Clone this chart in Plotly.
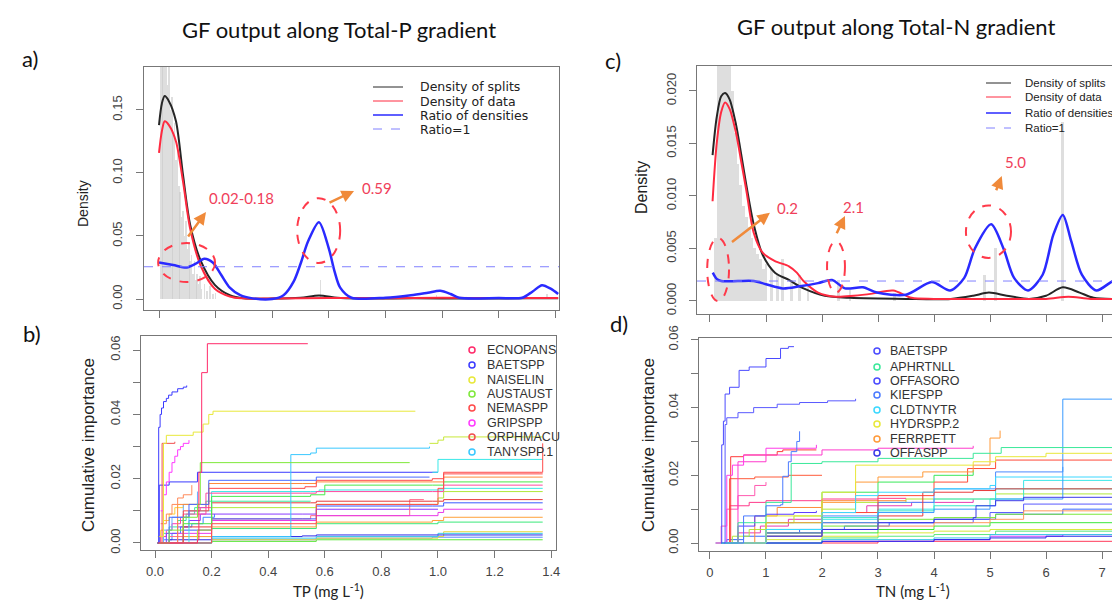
import plotly.graph_objects as go

W, H = 1120, 600

# ---- panel a: density along Total-P ----
A_SPLITS_X = [0.0, 0.01, 0.02, 0.035, 0.06, 0.085, 0.11, 0.148, 0.198, 0.25, 0.30, 0.40, 0.50,
              0.565, 0.63, 0.70, 0.90, 1.10, 1.30, 1.41]
A_SPLITS_Y = [0.138, 0.155, 0.161, 0.157, 0.141, 0.098, 0.059, 0.030, 0.011, 0.003, 0.0005, 0.0003,
              0.001, 0.0028, 0.001, 0.0004, 0.0005, 0.0004, 0.0005, 0.0005]
A_DATA_X = [0.0, 0.01, 0.02, 0.035, 0.06, 0.085, 0.11, 0.148, 0.198, 0.25, 0.29, 0.40, 0.60, 0.80,
            1.00, 1.20, 1.41]
A_DATA_Y = [0.116, 0.133, 0.141, 0.138, 0.125, 0.093, 0.056, 0.026, 0.008, 0.002, 0.0005, 0.0004,
            0.0008, 0.0006, 0.001, 0.0007, 0.0008]
A_RATIO_X = [0.0, 0.05, 0.098, 0.13, 0.16, 0.19, 0.22, 0.25, 0.287, 0.33, 0.40, 0.44, 0.476, 0.50,
             0.527, 0.565, 0.60, 0.62, 0.64, 0.68, 0.80, 0.89, 0.95, 0.993, 1.03, 1.06, 1.20, 1.283,
             1.32, 1.353, 1.385, 1.41]
A_RATIO_Y = [0.029, 0.027, 0.025, 0.028, 0.032, 0.029, 0.019, 0.009, 0.003, 0.0005, 0.0, 0.003,
             0.014, 0.028, 0.046, 0.061, 0.040, 0.022, 0.009, 0.001, 0.001, 0.003, 0.005, 0.0065,
             0.004, 0.001, 0.0008, 0.001, 0.006, 0.011, 0.008, 0.004]
A_RATIO_ONE = 0.0256
A_BAR_X = [0.005, 0.01, 0.015, 0.02, 0.025, 0.03, 0.035, 0.04, 0.045, 0.05, 0.055, 0.06, 0.065,
           0.07, 0.075, 0.08, 0.085, 0.09, 0.095, 0.1, 0.105, 0.11, 0.115, 0.12, 0.125, 0.13,
           0.135, 0.14, 0.145, 0.15, 0.16, 0.17, 0.18, 0.19, 0.2, 0.57, 0.98, 1.37]
A_BAR_H = [0.19, 0.19, 0.19, 0.185, 0.19, 0.17, 0.19, 0.15, 0.16, 0.13, 0.14, 0.11, 0.12, 0.09,
           0.085, 0.065, 0.07, 0.05, 0.062, 0.04, 0.045, 0.03, 0.035, 0.02, 0.03, 0.015, 0.02,
           0.012, 0.018, 0.008, 0.012, 0.006, 0.01, 0.004, 0.005, 0.015, 0.003, 0.004]

# ---- panel c: density along Total-N ----
C_SPLITS_X = [0.046, 0.12, 0.2, 0.27, 0.35, 0.465, 0.55, 0.65, 0.78, 0.94, 1.16, 1.41, 1.67, 2.05,
              2.5, 3.5, 4.3, 4.7, 4.98, 5.3, 5.7, 6.0, 6.3, 6.6, 6.85, 7.46]
C_SPLITS_Y = [0.0139, 0.0175, 0.0195, 0.0198, 0.0192, 0.0168, 0.0142, 0.011, 0.0073, 0.0044,
              0.0027, 0.0020, 0.0012, 0.0005, 0.0003, 0.0002, 0.0002, 0.0005, 0.0008, 0.0005,
              0.0002, 0.0005, 0.0013, 0.0008, 0.0003, 0.0002]
C_DATA_X = [0.046, 0.12, 0.2, 0.27, 0.35, 0.465, 0.55, 0.65, 0.78, 0.94, 1.16, 1.41, 1.55, 1.67,
            1.93, 2.25, 2.57, 2.9, 3.27, 3.6, 4.0, 5.0, 6.0, 6.4, 6.8, 7.46]
C_DATA_Y = [0.0095, 0.0150, 0.0180, 0.0189, 0.0183, 0.0160, 0.0135, 0.0105, 0.0065, 0.0046,
            0.0038, 0.0033, 0.0027, 0.0019, 0.0008, 0.0004, 0.0005, 0.0007, 0.001, 0.0003,
            0.0002, 0.0002, 0.0002, 0.0004, 0.0002, 0.0002]
C_RATIO_X = [0.05, 0.12, 0.2, 0.5, 0.78, 1.0, 1.3, 1.6, 1.93, 2.18, 2.41, 2.73, 2.98, 3.5, 3.96,
             4.29, 4.54, 4.73, 5.02, 5.24, 5.43, 5.68, 5.94, 6.13, 6.3, 6.45, 6.64, 6.9, 7.25, 7.46]
C_RATIO_Y = [0.0027, 0.0021, 0.0019, 0.0019, 0.0019, 0.0016, 0.0012, 0.0014, 0.0017, 0.0020,
             0.0012, 0.0013, 0.0008, 0.0006, 0.0018, 0.0010, 0.0022, 0.0050, 0.0073, 0.0050,
             0.0022, 0.0010, 0.0025, 0.0063, 0.0082, 0.0057, 0.0025, 0.0010, 0.0020, 0.0010]
C_RATIO_ONE = 0.0019
C_BAR_X = [0.1, 0.15, 0.2, 0.25, 0.3, 0.35, 0.4, 0.45, 0.5, 0.55, 0.6, 0.65, 0.7, 0.75, 0.8, 0.85,
           0.9, 0.95, 1.0, 1.1, 1.2, 1.3, 1.45, 1.6, 1.75, 2.3, 2.5, 3.3, 4.9, 5.1, 6.3, 7.2]
C_BAR_H = [0.006, 0.024, 0.024, 0.024, 0.024, 0.024, 0.02, 0.016, 0.013, 0.011, 0.009, 0.008,
           0.007, 0.006, 0.005, 0.0045, 0.004, 0.003, 0.0035, 0.003, 0.0025, 0.004, 0.002,
           0.0025, 0.0015, 0.002, 0.001, 0.0008, 0.0025, 0.005, 0.017, 0.0035]

# ---- panel b: cumulative importance along TP ----
B_X = [
    [0.01, 0.15, 0.155, 0.165, 0.185, 0.54],
    [0.01, 0.013, 0.018, 0.023, 0.03, 0.04, 0.048, 0.06, 0.08, 0.1, 0.112],
    [0.01, 0.03, 0.04, 0.135, 0.17, 0.19, 0.205, 0.92],
    [0.01, 0.05, 0.1, 0.15, 0.16, 0.9],
    [0.01, 0.2, 0.57, 1.0, 1.02, 1.36, 1.37],
    [0.02, 0.03, 0.04, 0.05, 0.06, 0.07, 0.08, 0.09, 0.1, 0.12],
    [0.02, 0.025, 0.07],
    [0.01, 0.2, 0.47, 0.48, 0.55, 0.57, 0.97],
    [0.97, 1.0, 1.02, 1.37],
    [0.98, 1.0, 1.37],
    [0.01, 0.015, 0.05, 0.15, 1.0],
    [0.01, 0.05, 0.12, 0.19, 0.52, 0.57, 0.97],
    [0.01, 0.1, 0.19, 0.53, 0.57, 0.98, 1.02, 1.37],
    [0.01, 0.08, 0.19, 0.52, 0.57, 0.98, 1.02, 1.37],
    [0.01, 0.1, 0.2, 0.55, 0.6, 0.98, 1.02, 1.37],
    [0.01, 0.1, 0.18, 0.52, 0.57, 0.98, 1.02, 1.37],
    [0.01, 0.12, 0.2, 0.55, 0.58, 1.0, 1.02, 1.37],
    [0.01, 0.15, 0.2, 0.57, 1.0, 1.02, 1.37],
    [0.01, 0.1, 0.2, 0.55, 0.57, 0.98, 1.02, 1.37],
    [0.01, 0.1, 0.2, 0.52, 0.57, 0.98, 1.02, 1.37],
    [0.01, 0.08, 0.2, 0.57, 1.0, 1.02, 1.37],
    [0.01, 0.1, 0.2, 0.57, 0.98, 1.02, 1.37],
    [0.01, 0.15, 0.2, 0.57, 1.0, 1.37],
    [0.01, 0.05, 0.2, 0.47, 0.52, 0.57, 1.37],
    [0.01, 0.2, 0.57, 1.0, 1.37],
    [0.01, 0.2, 0.57, 1.0, 1.02, 1.37],
    [0.01, 0.2, 0.57, 0.98, 1.37],
    [0.01, 0.2, 0.57, 1.37],
    [0.01, 0.05, 0.15, 0.2, 0.52, 0.55, 0.9, 0.95],
    [0.01, 0.03, 0.06, 0.1, 0.15],
    [0.02, 0.04, 0.06, 0.08, 0.1, 0.13],
    [0.01, 0.04, 0.08, 0.12, 0.16, 0.52, 0.57, 1.0],
    [0.01, 0.02, 0.04, 0.06, 0.09, 0.12, 0.16, 0.2],
    [0.01, 0.03, 0.05, 0.08, 0.11, 0.14, 0.18, 0.55],
    [0.01, 0.02, 0.03, 0.05, 0.07, 0.1, 0.15],
    [0.01, 0.03, 0.06, 0.09, 0.13, 0.17, 0.21],
]
B_Y = [
    [0.0, 0.001, 0.022, 0.053, 0.062, 0.062],
    [0.0, 0.036, 0.04, 0.042, 0.044, 0.045, 0.046, 0.047, 0.048, 0.0485, 0.049],
    [0.002, 0.031, 0.0335, 0.0345, 0.037, 0.040, 0.041, 0.041],
    [0.0, 0.004, 0.008, 0.012, 0.025, 0.025],
    [0.0, 0.006, 0.012, 0.017, 0.022, 0.022, 0.031],
    [0.01, 0.015, 0.019, 0.022, 0.025, 0.027, 0.029, 0.030, 0.031, 0.032],
    [0.0, 0.031, 0.0315],
    [0.0, 0.002, 0.002, 0.0275, 0.028, 0.0295, 0.030],
    [0.031, 0.032, 0.033, 0.033],
    [0.022, 0.026, 0.026],
    [0.0, 0.018, 0.019, 0.022, 0.022],
    [0.0, 0.008, 0.012, 0.0195, 0.0195, 0.0205, 0.0205],
    [0.0, 0.01, 0.017, 0.0175, 0.0195, 0.02, 0.0215, 0.0215],
    [0.0, 0.012, 0.0185, 0.0185, 0.019, 0.019, 0.0205, 0.0205],
    [0.0, 0.006, 0.0145, 0.015, 0.018, 0.018, 0.019, 0.019],
    [0.0, 0.009, 0.0155, 0.0155, 0.016, 0.016, 0.018, 0.018],
    [0.0, 0.01, 0.016, 0.016, 0.0165, 0.0165, 0.017, 0.017],
    [0.0, 0.004, 0.011, 0.012, 0.014, 0.016, 0.016],
    [0.0, 0.005, 0.0125, 0.0125, 0.013, 0.013, 0.0135, 0.0135],
    [0.0, 0.004, 0.0075, 0.0075, 0.0115, 0.0115, 0.0125, 0.0125],
    [0.0, 0.003, 0.007, 0.0085, 0.0095, 0.0105, 0.0105],
    [0.0, 0.002, 0.005, 0.0065, 0.007, 0.008, 0.008],
    [0.0, 0.002, 0.0045, 0.006, 0.0065, 0.0065],
    [0.0, 0.001, 0.002, 0.002, 0.0022, 0.0025, 0.0025],
    [0.0, 0.0015, 0.002, 0.003, 0.003],
    [0.0, 0.001, 0.0015, 0.002, 0.0035, 0.0035],
    [0.0, 0.001, 0.0015, 0.0018, 0.0018],
    [0.0, 0.0005, 0.001, 0.001],
    [0.0, 0.002, 0.004, 0.0075, 0.0075, 0.0085, 0.0135, 0.0135],
    [0.0, 0.004, 0.008, 0.012, 0.016],
    [0.006, 0.009, 0.012, 0.014, 0.015, 0.018],
    [0.0, 0.003, 0.005, 0.007, 0.009, 0.009, 0.0105, 0.0105],
    [0.0, 0.002, 0.004, 0.006, 0.008, 0.010, 0.011, 0.012],
    [0.0, 0.003, 0.005, 0.007, 0.009, 0.011, 0.013, 0.013],
    [0.0, 0.004, 0.007, 0.009, 0.011, 0.012, 0.013],
    [0.0, 0.001, 0.003, 0.005, 0.006, 0.008, 0.009],
]
B_COLORS = ["#ff2a6a", "#3a3aff", "#e8e83a", "#7ee83a", "#ff4a4a", "#ff3aff", "#f05050", "#3ac8ff",
            "#c8e83a", "#3ae8e8", "#3a3aff", "#4a6aff", "#ff4a4a", "#ff8a3a", "#4ae84a", "#ff4aa0",
            "#3ae8e8", "#b0e83a", "#e83a3a", "#3a5aff", "#e83ae8", "#ffa03a", "#3ae87a", "#2a2ae8",
            "#3ac8e8", "#e8d83a", "#5a8aff", "#5ae83a", "#ff6a8a", "#6ab0ff", "#ff8a5a", "#8a3aff",
            "#ff3ab0", "#3ae8a0", "#ffd03a", "#3a8aff"]
B_LEGEND = ["ECNOPANS", "BAETSPP", "NAISELIN", "AUSTAUST", "NEMASPP", "GRIPSPP", "ORPHMACU",
            "TANYSPP.1"]
B_LEGEND_COLORS = ["#ff2a6a", "#3a3aff", "#e8e83a", "#7ee83a", "#ff4a4a", "#ff3aff", "#f05050",
                   "#3ac8ff"]

# ---- panel d: cumulative importance along TN ----
D_X = [
    [0.2, 0.21, 0.24, 0.27, 0.35, 0.52, 0.7, 1.0, 1.26, 1.4, 1.5],
    [0.25, 0.27, 0.3, 0.5, 0.78, 1.2, 1.6, 2.1, 2.6],
    [0.2, 0.6, 1.0, 1.26, 1.3, 1.4, 1.45, 1.55, 1.6],
    [0.2, 0.5, 1.0, 1.45, 2.0, 3.0, 4.7, 5.2, 7.25],
    [0.2, 1.0, 2.0, 2.6, 3.0, 4.0, 5.0, 5.1, 6.3, 7.25],
    [0.2, 1.0, 2.0, 2.6, 4.7, 5.1, 6.0, 7.2, 7.25],
    [0.3, 1.0, 2.0, 2.6, 3.0, 3.8, 4.7, 5.0, 5.18],
    [0.2, 1.0, 2.0, 3.0, 4.0, 4.7, 4.75, 5.1, 5.6, 7.25],
    [0.2, 1.0, 2.0, 3.0, 4.0, 5.0, 5.1, 6.3, 7.25],
    [0.2, 0.3, 0.4, 0.6, 1.0, 1.9],
    [0.3, 0.5, 1.0, 2.0, 3.0, 4.7],
    [0.25, 0.37, 0.6, 1.2, 1.3, 1.9],
    [0.3, 0.35, 0.8, 1.4, 2.0],
    [0.2, 0.35, 0.7, 1.0, 2.0, 3.0, 3.5],
    [0.3, 1.0, 2.0, 3.0, 3.8, 4.7, 5.1, 7.25],
    [0.3, 1.0, 2.0, 3.0, 4.0, 5.0, 5.6, 7.25],
    [0.3, 1.0, 2.0, 3.0, 4.0, 5.1, 7.25],
    [0.3, 1.0, 2.0, 3.0, 4.0, 5.0, 5.6, 7.25],
    [0.3, 1.0, 2.0, 3.0, 4.7, 5.0, 5.6, 7.25],
    [0.3, 1.0, 2.0, 3.0, 4.0, 5.0, 7.25],
    [0.3, 1.0, 2.0, 3.0, 4.0, 5.0, 7.25],
    [0.2, 2.0, 4.0, 5.0, 6.0, 7.25],
    [0.2, 2.0, 4.0, 5.0, 7.25],
    [0.2, 2.0, 3.0, 4.0, 5.1, 7.25],
    [0.2, 2.0, 4.0, 5.0, 6.3, 7.25],
    [0.2, 3.0, 7.25],
    [0.1, 0.2, 0.3, 0.5, 0.8, 1.0],
    [0.3, 0.5, 0.8, 1.0, 1.5, 1.9],
    [0.3, 1.0, 2.0, 3.0, 4.0, 4.7],
    [0.3, 1.0, 2.0, 3.0, 4.0, 4.6, 5.1, 7.25],
    [0.3, 1.0, 2.0, 3.0, 4.0, 5.1, 6.3],
    [0.3, 1.0, 2.0, 3.0, 4.0, 5.1, 5.6, 7.25],
    [0.3, 0.8, 1.2, 2.0, 3.5],
    [0.2, 0.4, 0.7, 1.0, 1.5, 2.0, 2.6, 3.5, 5.1, 7.25],
    [0.2, 0.5, 0.9, 1.4, 2.0, 2.8, 3.6, 4.7],
    [0.1, 0.3, 0.6, 1.0, 1.6, 2.4, 3.2, 4.0, 5.1, 6.3, 7.25],
]
D_Y = [
    [0.0, 0.029, 0.036, 0.044, 0.046, 0.051, 0.052, 0.0545, 0.0575, 0.058, 0.058],
    [0.0, 0.035, 0.037, 0.0385, 0.040, 0.041, 0.0415, 0.042, 0.0426],
    [0.0, 0.008, 0.011, 0.0113, 0.0197, 0.024, 0.027, 0.030, 0.033],
    [0.0, 0.006, 0.012, 0.0235, 0.024, 0.025, 0.0265, 0.0282, 0.0285],
    [0.0, 0.004, 0.009, 0.014, 0.015, 0.016, 0.017, 0.0195, 0.0195, 0.020],
    [0.0, 0.008, 0.015, 0.023, 0.024, 0.0255, 0.0265, 0.028, 0.0395],
    [0.0, 0.006, 0.012, 0.018, 0.0195, 0.021, 0.023, 0.031, 0.0332],
    [0.0, 0.002, 0.004, 0.006, 0.007, 0.0075, 0.011, 0.0125, 0.0135, 0.014],
    [0.0, 0.003, 0.006, 0.009, 0.010, 0.011, 0.013, 0.0425, 0.028],
    [0.0, 0.020, 0.023, 0.026, 0.028, 0.029],
    [0.0, 0.024, 0.026, 0.0275, 0.028, 0.0287],
    [0.0, 0.0255, 0.026, 0.027, 0.0275, 0.0275],
    [0.0, 0.019, 0.0195, 0.020, 0.020],
    [0.0, 0.011, 0.012, 0.0125, 0.013, 0.0132, 0.0133],
    [0.0, 0.003, 0.006, 0.008, 0.015, 0.0155, 0.016, 0.0165],
    [0.0, 0.002, 0.004, 0.005, 0.006, 0.007, 0.0095, 0.0095],
    [0.0, 0.003, 0.005, 0.007, 0.0075, 0.0085, 0.0085],
    [0.0, 0.004, 0.0075, 0.0095, 0.011, 0.013, 0.016, 0.0165],
    [0.0, 0.002, 0.004, 0.006, 0.007, 0.009, 0.0115, 0.0115],
    [0.0, 0.002, 0.003, 0.004, 0.005, 0.006, 0.0065],
    [0.0, 0.001, 0.002, 0.003, 0.0035, 0.004, 0.0045],
    [0.0, 0.0005, 0.001, 0.0015, 0.002, 0.002],
    [0.0, 0.001, 0.0015, 0.0025, 0.0025],
    [0.0, 0.0015, 0.002, 0.0025, 0.0035, 0.0035],
    [0.0, 0.0005, 0.001, 0.002, 0.0025, 0.003],
    [0.0, 0.0005, 0.001],
    [0.0, 0.005, 0.010, 0.014, 0.017, 0.018],
    [0.0, 0.005, 0.008, 0.0085, 0.009, 0.0095],
    [0.0, 0.006, 0.015, 0.018, 0.020, 0.0215],
    [0.0, 0.004, 0.009, 0.014, 0.018, 0.022, 0.0245, 0.0245],
    [0.0, 0.004, 0.008, 0.012, 0.016, 0.021, 0.0225],
    [0.0, 0.003, 0.007, 0.010, 0.013, 0.016, 0.0185, 0.019],
    [0.0, 0.008, 0.0105, 0.0125, 0.0125],
    [0.0, 0.002, 0.004, 0.006, 0.008, 0.010, 0.012, 0.013, 0.0145, 0.015],
    [0.0, 0.003, 0.005, 0.007, 0.009, 0.011, 0.012, 0.013],
    [0.0, 0.001, 0.002, 0.003, 0.004, 0.005, 0.006, 0.007, 0.0085, 0.010, 0.0105],
]
D_COLORS = ["#4a4aff", "#5a5aff", "#4a7aff", "#3ae89a", "#3ad8ff", "#e8e83a", "#ff9a3a", "#3a3ae8",
            "#3a9aff", "#ff3ae8", "#ff3acc", "#ff3a3a", "#ff5a3a", "#ff3a8a", "#e83a3a", "#ff9a5a",
            "#7ae83a", "#3ae8c8", "#5a5aff", "#3ae83a", "#d8e83a", "#2a2ae8", "#3ac8e8", "#5ae87a",
            "#c83aff", "#ff3a5a", "#ff5ab0", "#5a3aff", "#3ae85a", "#ff4a3a", "#4a8aff", "#3ae8e8",
            "#ff8a3a", "#b0e83a", "#e83ab0", "#3a6aff"]
D_LEGEND = ["BAETSPP", "APHRTNLL", "OFFASORO", "KIEFSPP", "CLDTNYTR", "HYDRSPP.2", "FERRPETT",
            "OFFASPP"]
D_LEGEND_COLORS = ["#4a4aff", "#3ae89a", "#4a4aff", "#4a7aff", "#3ad8ff", "#e8e83a", "#ff9a3a",
                   "#3a3ae8"]

DENSITY_LEGEND = ["Density of splits", "Density of data", "Ratio of densities", "Ratio=1"]
SPLIT_COL, DATA_COL, RATIO_COL, ONE_COL = "#262626", "#ff2a40", "#2a2aff", "#8080ff"
BAR_COL = "rgba(200,200,200,0.6)"
HILITE = "#f0405a"
ARROW = "#f08a3a"


def px(x):
    return x / W


def py(y):
    return 1 - y / H


fig = go.Figure()

# grey split histograms
fig.add_trace(go.Bar(x=A_BAR_X, y=A_BAR_H, width=0.0055, marker_color=BAR_COL,
                     marker_line_width=0, xaxis="x", yaxis="y"))
fig.add_trace(go.Bar(x=C_BAR_X, y=C_BAR_H, width=0.05, marker_color=BAR_COL,
                     marker_line_width=0, xaxis="x3", yaxis="y3"))

for xs, ys, col, w, xa, ya in [
    (A_SPLITS_X, A_SPLITS_Y, SPLIT_COL, 2, "x", "y"),
    (A_DATA_X, A_DATA_Y, DATA_COL, 2, "x", "y"),
    (A_RATIO_X, A_RATIO_Y, RATIO_COL, 2.5, "x", "y"),
    (C_SPLITS_X, C_SPLITS_Y, SPLIT_COL, 2, "x3", "y3"),
    (C_DATA_X, C_DATA_Y, DATA_COL, 2, "x3", "y3"),
    (C_RATIO_X, C_RATIO_Y, RATIO_COL, 2.5, "x3", "y3"),
]:
    fig.add_trace(go.Scatter(x=xs, y=ys, mode="lines", line=dict(color=col, width=w, shape="spline",
                                                                  smoothing=0.8),
                             xaxis=xa, yaxis=ya))

# cumulative importance, background first so the named species sit on top
for xs_all, ys_all, cols, xa, ya in [(B_X, B_Y, B_COLORS, "x2", "y2"), (D_X, D_Y, D_COLORS, "x4", "y4")]:
    for xs, ys, col in reversed(list(zip(xs_all, ys_all, cols))):
        fig.add_trace(go.Scatter(x=xs, y=ys, mode="lines", line=dict(color=col, width=1, shape="hv"),
                                 xaxis=xa, yaxis=ya))

tickfont = dict(family="Liberation Sans", size=13, color="#444")


def axis(**kw):
    d = dict(showline=True, linecolor="#777", linewidth=1, ticks="outside", ticklen=7,
             tickcolor="#777", tickfont=tickfont, showgrid=False, zeroline=False,
             automargin=False, fixedrange=True)
    d.update(kw)
    return d


def alt_labels(vals, fmt):
    return [fmt.format(v) if i % 2 == 0 else "" for i, v in enumerate(vals)]


TP_TICKS = [0.0, 0.2, 0.4, 0.6, 0.8, 1.0, 1.2, 1.4]
TN_TICKS = [0, 1, 2, 3, 4, 5, 6, 7]
IMP_TICKS = [0.0, 0.01, 0.02, 0.03, 0.04, 0.05, 0.06]
DENS_A_TICKS = [0.0, 0.05, 0.10, 0.15]
DENS_C_TICKS = [0.0, 0.005, 0.010, 0.015, 0.020]

fig.update_layout(
    width=W, height=H, template="none", showlegend=False, barmode="overlay", bargap=0,
    margin=dict(l=0, r=0, t=0, b=0), paper_bgcolor="white", plot_bgcolor="white",
    xaxis=axis(domain=[px(136), px(551)], range=[-0.053, 1.413], anchor="y", mirror=True,
               tickvals=TP_TICKS, showticklabels=False),
    yaxis=axis(domain=[py(302), py(59)], range=[-0.00873, 0.1841], anchor="x", mirror=True,
               tickvals=DENS_A_TICKS, ticktext=["{:.2f}".format(v) for v in DENS_A_TICKS],
               tickangle=-90, ticklabelstandoff=9),
    xaxis2=axis(domain=[px(133), px(548)], range=[-0.0495, 1.417], anchor="y2", mirror=True,
                tickvals=TP_TICKS, ticktext=["{:.1f}".format(v) for v in TP_TICKS],
                ticklabelstandoff=2),
    yaxis2=axis(domain=[py(542), py(328)], range=[-0.00218, 0.0644], anchor="x2", mirror=True,
                tickvals=IMP_TICKS, ticktext=alt_labels(IMP_TICKS, "{:.2f}"), tickangle=-90,
                ticklabelstandoff=8),
    xaxis3=axis(domain=[px(689), 1.0], range=[-0.232, 7.464], anchor="y3", mirror=True,
                tickvals=TN_TICKS, showticklabels=False),
    yaxis3=axis(domain=[py(306), py(58)], range=[-0.00124, 0.02238], anchor="x3",
                tickvals=DENS_C_TICKS, ticktext=["{:.3f}".format(v) for v in DENS_C_TICKS],
                tickangle=-90, ticklabelstandoff=8),
    xaxis4=axis(domain=[px(691), 1.0], range=[-0.196, 7.464], anchor="y4", mirror=True,
                tickvals=TN_TICKS, ticktext=[str(v) for v in TN_TICKS], ticklabelstandoff=2),
    yaxis4=axis(domain=[py(543), py(330)], range=[-0.00236, 0.06056], anchor="x4",
                tickvals=IMP_TICKS, ticktext=alt_labels(IMP_TICKS, "{:.2f}"), tickangle=-90,
                ticklabelstandoff=8),
)

shapes = []
# Ratio=1 reference lines
for y1, xr, yr in [(A_RATIO_ONE, "x domain", "y"), (C_RATIO_ONE, "x3 domain", "y3")]:
    shapes.append(dict(type="line", xref=xr, yref=yr, x0=0, x1=1, y0=y1, y1=y1,
                       line=dict(color=ONE_COL, width=1, dash="dash")))

# dashed red highlight ellipses
for xr, yr, x0, x1, y0, y1 in [
    ("x", "y", -0.003, 0.198, 0.0135, 0.0444),
    ("x", "y", 0.488, 0.640, 0.0286, 0.080),
    ("x3", "y3", -0.05, 0.34, 0.0, 0.0060),
    ("x3", "y3", 2.09, 2.41, 0.0008, 0.0057),
    ("x3", "y3", 4.57, 5.375, 0.0041, 0.0091),
]:
    shapes.append(dict(type="circle", xref=xr, yref=yr, x0=x0, x1=x1, y0=y0, y1=y1,
                       line=dict(color="#ff3a4a", width=2, dash="dash")))

annotations = []


def text(x, y, s, size, color="#222", family="Lato", angle=0, xanchor="center", **kw):
    annotations.append(dict(x=x, y=y, xref="paper", yref="paper", text=s, showarrow=False,
                            textangle=angle, xanchor=xanchor, yanchor="middle",
                            font=dict(family=family, size=size, color=color), **kw))


# density legends (lines)
for lx0, lx1, tx, ys, fam, fs in [
    (365, 395, 410, [79, 93, 107, 121], "DejaVu Sans", 12.5),
    (978, 1003, 1015, [75, 89, 105, 120], "Liberation Sans", 11.5),
]:
    for name, col, y, dash, w in zip(DENSITY_LEGEND, [SPLIT_COL, DATA_COL, RATIO_COL, ONE_COL], ys,
                                     ["solid", "solid", "solid", "dash"], [1, 1, 1.5, 1]):
        shapes.append(dict(type="line", xref="paper", yref="paper", x0=px(lx0), x1=px(lx1),
                           y0=py(y), y1=py(y), line=dict(color=col, width=w, dash=dash)))
        text(px(tx), py(y), name, fs, "#222", fam, xanchor="left")

# species legends (open circles)
for cx, tx, ys, names, cols in [
    (464, 477, [342, 357, 372, 386, 400, 415, 429, 444], B_LEGEND, B_LEGEND_COLORS),
    (869, 880, [343, 359, 373, 387, 402, 416, 431, 445], D_LEGEND, D_LEGEND_COLORS),
]:
    for name, col, y in zip(names, cols, ys):
        shapes.append(dict(type="circle", xref="paper", yref="paper", xsizemode="pixel",
                           ysizemode="pixel", xanchor=px(cx), yanchor=py(y), x0=-3, x1=3, y0=-3,
                           y1=3, line=dict(color=col, width=1.5)))
        text(px(tx), py(y), name, 12.5, "#333", "Liberation Sans", xanchor="left")

# arrows and highlighted values
for xr, yr, tail, head, label, lpos in [
    ("x", "y", (0.099, 0.0484), (0.166, 0.069), "0.02-0.18", (0.293, 0.080)),
    ("x", "y", (0.597, 0.076), (0.689, 0.0857), "0.59", (0.770, 0.088)),
    ("x3", "y3", (0.366, 0.0055), (1.07, 0.0084), "0.2", (1.39, 0.00886)),
    ("x3", "y3", (2.25, 0.0063), (2.41, 0.0081), "2.1", (2.57, 0.00895)),
    ("x3", "y3", (5.10, 0.0104), (5.21, 0.0119), "5.0", (5.46, 0.0132)),
]:
    annotations.append(dict(x=head[0], y=head[1], ax=tail[0], ay=tail[1], xref=xr, yref=yr,
                            axref=xr, ayref=yr, text="", showarrow=True, arrowhead=2,
                            arrowsize=1, arrowwidth=2.5, arrowcolor=ARROW))
    annotations.append(dict(x=lpos[0], y=lpos[1], xref=xr, yref=yr, text=label, showarrow=False,
                            font=dict(family="Lato", size=15, color=HILITE)))

# titles, panel letters, axis titles
text(px(331), py(22), "GF output along Total-P gradient", 22, "#111")
text(px(888), py(18), "GF output along Total-N gradient", 22, "#111")
text(px(22), py(50), "a)", 22, "#111")
text(px(24), py(325), "b)", 22, "#111")
text(px(605), py(52), "c)", 22, "#111")
text(px(611), py(315), "d)", 22, "#111")
text(px(75), py(196), "Density", 14, "#222", "Liberation Sans", angle=-90)
text(px(633), py(180), "Density", 16, "#222", "Liberation Sans", angle=-90)
text(px(80), py(437), "Cumulative importance", 17, "#222", "Liberation Sans", angle=-90)
text(px(640), py(437), "Cumulative importance", 17, "#222", "Liberation Sans", angle=-90)
text(px(320), py(582), "TP (mg L<sup>-1</sup>)", 15, "#222")
text(px(905), py(582), "TN (mg L<sup>-1</sup>)", 15, "#222")

fig.update_layout(shapes=shapes, annotations=annotations)

fig.write_html("out.html")
